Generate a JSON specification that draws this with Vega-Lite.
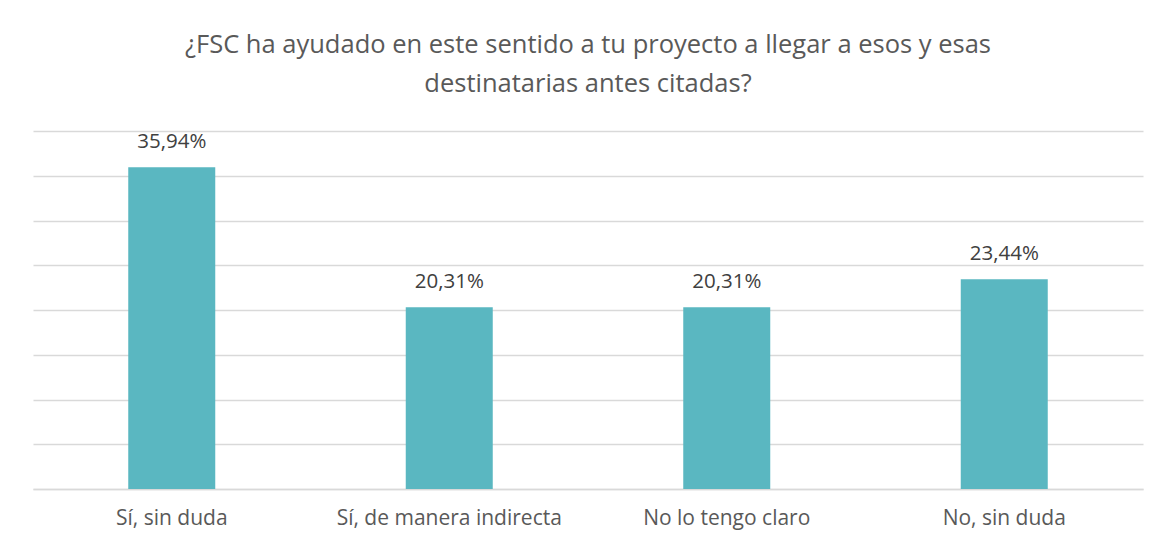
{
  "$schema": "https://vega.github.io/schema/vega-lite/v6.json",
  "autosize": {"type": "none"},
  "padding": {"left": 33, "top": 131, "right": 28, "bottom": 61},
  "width": 1110,
  "height": 358,
  "background": "white",
  "title": {
    "text": ["¿FSC ha ayudado en este sentido a tu proyecto a llegar a esos y esas", "destinatarias antes citadas?"],
    "font": "Open Sans",
    "fontSize": 25.5,
    "fontWeight": "normal",
    "color": "#595959",
    "anchor": "middle",
    "lineHeight": 39,
    "offset": 34
  },
  "data": {
    "values": [
      {"cat": "Sí, sin duda", "pct": 0.3594, "label": "35,94%"},
      {"cat": "Sí, de manera indirecta", "pct": 0.2031, "label": "20,31%"},
      {"cat": "No lo tengo claro", "pct": 0.2031, "label": "20,31%"},
      {"cat": "No, sin duda", "pct": 0.2344, "label": "23,44%"}
    ]
  },
  "encoding": {
    "x": {
      "field": "cat",
      "type": "nominal",
      "sort": null,
      "scale": {"paddingInner": 0, "paddingOuter": 0},
      "axis": {
        "title": null,
        "labelAngle": 0,
        "labelFont": "Open Sans",
        "labelFontSize": 21,
        "labelColor": "#595959",
        "labelPadding": 18,
        "labelLimit": 0,
        "ticks": false,
        "domain": true,
        "domainColor": "#D9D9D9",
        "domainWidth": 1.5
      }
    },
    "y": {
      "field": "pct",
      "type": "quantitative",
      "scale": {"domain": [0, 0.4]},
      "axis": {
        "title": null,
        "labels": false,
        "ticks": false,
        "domain": false,
        "grid": true,
        "gridColor": "#D9D9D9",
        "gridWidth": 1.5,
        "values": [0, 0.05, 0.1, 0.15, 0.2, 0.25, 0.3, 0.35, 0.4]
      }
    }
  },
  "layer": [
    {"mark": {"type": "bar", "width": 87, "color": "#5AB7C1"}},
    {
      "mark": {"type": "text", "font": "Open Sans", "fontSize": 20.5, "color": "#404040", "baseline": "alphabetic", "dy": -19},
      "encoding": {"text": {"field": "label"}}
    }
  ],
  "config": {"view": {"stroke": null}}
}
